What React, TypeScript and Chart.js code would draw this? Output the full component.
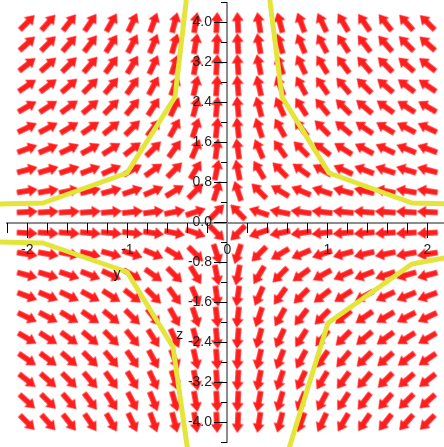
import React, { useEffect, useRef } from "react";
import { Chart, registerables } from "chart.js";

Chart.register(...registerables);

// Direction-field grid (20 x 20, Maple fieldplot style)
const gridX = [-2, -1.789, -1.579, -1.368, -1.158, -0.947, -0.737, -0.526, -0.316, -0.105,
  0.105, 0.316, 0.526, 0.737, 0.947, 1.158, 1.368, 1.579, 1.789, 2];
const gridY = [-4, -3.579, -3.158, -2.737, -2.316, -1.895, -1.474, -1.053, -0.632, -0.211,
  0.211, 0.632, 1.053, 1.474, 1.895, 2.316, 2.737, 3.158, 3.579, 4];

// Field: dx/dt = -x, dy/dt = y
const fieldX = (x: number, _y: number) => -x;
const fieldY = (_x: number, y: number) => y;

// Solution curves (vertices)
const curveTopLeftX = [-2.3, -1.843, -1.003, -0.523, -0.41];
const curveTopLeftY = [0.37, 0.39, 0.99, 2.51, 4.45];
const curveTopRightX = [0.425, 0.547, 1.017, 1.847, 2.3];
const curveTopRightY = [4.45, 2.51, 0.99, 0.39, 0.37];
const curveBottomLeftX = [-2.3, -1.843, -1.003, -0.543, -0.4];
const curveBottomLeftY = [-0.39, -0.41, -0.99, -2.49, -4.5];
const curveBottomRightX = [0.62, 1.007, 1.847, 2.3];
const curveBottomRightY = [-4.5, -2.01, -0.83, -0.66];

// Axis ranges and ticks
const X_MIN = -2.2;
const X_MAX = 2.167;
const Y_MIN = -4.4;
const Y_MAX = 4.4;
const X_STEP = 0.2;
const Y_STEP = 0.4;

// Stray text labels in the plot
const textLabels = ["y", "z"];
const textLabelX = [-1.103, -0.476];
const textLabelY = [-1.11, -2.32];

const RED = "#ff1e1e";
const YELLOW = "#e4e43a";
const AXIS_GRAY = "#8c8c8c";
const TEXT = "#1e1e1e";
const FONT_FAMILY = "'Liberation Sans', Arial, sans-serif";

function makeArrowSprite(): HTMLCanvasElement {
  const c = document.createElement("canvas");
  c.width = 24;
  c.height = 14;
  const g = c.getContext("2d")!;
  g.fillStyle = RED;
  g.beginPath();
  g.moveTo(1.5, 4.2);
  g.lineTo(13.5, 4.2);
  g.lineTo(13.5, 1);
  g.lineTo(22.5, 7);
  g.lineTo(13.5, 13);
  g.lineTo(13.5, 9.8);
  g.lineTo(1.5, 9.8);
  g.closePath();
  g.fill();
  return c;
}

const isMajorX = (v: number) => Math.abs(v - Math.round(v)) < 1e-6;
const isMajorY = (v: number) => Math.round(v / Y_STEP) % 2 === 0;

const noPadding = (s: any) => {
  s.paddingLeft = 0;
  s.paddingRight = 0;
  s.paddingTop = 0;
  s.paddingBottom = 0;
};

export default function App() {
  const ref = useRef<HTMLCanvasElement | null>(null);

  useEffect(() => {
    if (!ref.current) return;
    const sprite = makeArrowSprite();

    const arrowPoints: { x: number; y: number }[] = [];
    for (const y of gridY) for (const x of gridX) arrowPoints.push({ x, y });

    const curve = (xs: number[], ys: number[]) => ({
      type: "scatter" as const,
      data: xs.map((x, i) => ({ x, y: ys[i] })),
      showLine: true,
      borderColor: YELLOW,
      backgroundColor: YELLOW,
      borderWidth: 5,
      pointRadius: 0,
      borderJoinStyle: "round" as const,
      borderCapStyle: "butt" as const,
      clip: false as const,
      order: 1,
    });

    const textPlugin = {
      id: "strayText",
      afterDraw(chart: any) {
        const g = chart.ctx as CanvasRenderingContext2D;
        const xs = chart.scales.x;
        const ys = chart.scales.y;
        g.save();
        g.font = `14px ${FONT_FAMILY}`;
        g.fillStyle = TEXT;
        g.textAlign = "center";
        g.textBaseline = "alphabetic";
        textLabels.forEach((t, i) => {
          g.fillText(t, xs.getPixelForValue(textLabelX[i]), ys.getPixelForValue(textLabelY[i]));
        });
        g.restore();
      },
    };

    const tickFont = { family: FONT_FAMILY, size: 14 };

    const chart = new Chart(ref.current, {
      type: "scatter",
      data: {
        datasets: [
          {
            type: "scatter",
            data: arrowPoints,
            pointStyle: sprite,
            pointRadius: 10,
            rotation: (c: any) => {
              const p = c.raw as { x: number; y: number };
              if (!p) return 0;
              const xs = c.chart.scales.x;
              const ys = c.chart.scales.y;
              const e = 1e-3;
              const dx = xs.getPixelForValue(p.x + fieldX(p.x, p.y) * e) - xs.getPixelForValue(p.x);
              const dy = ys.getPixelForValue(p.y + fieldY(p.x, p.y) * e) - ys.getPixelForValue(p.y);
              return (Math.atan2(dy, dx) * 180) / Math.PI;
            },
            order: 2,
          } as any,
          curve(curveTopLeftX, curveTopLeftY),
          curve(curveTopRightX, curveTopRightY),
          curve(curveBottomLeftX, curveBottomLeftY),
          curve(curveBottomRightX, curveBottomRightY),
        ],
      },
      options: {
        animation: false,
        responsive: false,
        events: [],
        layout: { autoPadding: false, padding: { left: 7.3, top: 2.5, right: 0, bottom: 4.5 } },
        plugins: { legend: { display: false }, tooltip: { enabled: false } },
        scales: {
          x: {
            type: "linear",
            axis: "x",
            min: X_MIN,
            max: X_MAX,
            position: { y: 0 },
            afterFit: noPadding,
            ticks: {
              z: 2,
              stepSize: X_STEP,
              includeBounds: false,
              autoSkip: false,
              maxRotation: 0,
              padding: 5,
              font: tickFont,
              color: TEXT,
              callback: (v: any) => (isMajorX(Number(v)) ? String(Math.round(Number(v))) : ""),
            },
            grid: {
              z: 1,
              drawOnChartArea: false,
              drawTicks: true,
              tickLength: 14,
              tickWidth: 1,
              tickColor: (c: any) => (c.tick && isMajorX(c.tick.value) ? "#000" : "rgba(0,0,0,0)"),
            },
            border: { z: 1, display: true, color: AXIS_GRAY, width: 2 },
          },
          xMinor: {
            type: "linear",
            axis: "x",
            min: X_MIN,
            max: X_MAX,
            position: { y: 0 },
            afterFit: noPadding,
            ticks: { z: 2, stepSize: X_STEP, includeBounds: false, autoSkip: false, display: false },
            grid: { z: 1, drawOnChartArea: false, drawTicks: true, tickLength: 10, tickWidth: 1, tickColor: "#000" },
            border: { display: false },
          },
          y: {
            type: "linear",
            axis: "y",
            min: Y_MIN,
            max: Y_MAX,
            position: { x: 0 },
            afterFit: noPadding,
            ticks: { z: 2, stepSize: Y_STEP, autoSkip: false, display: false },
            grid: {
              z: 1,
              drawOnChartArea: false,
              drawTicks: true,
              tickLength: 12,
              tickWidth: 1,
              tickColor: (c: any) => (c.tick && isMajorY(c.tick.value) ? "#000" : "rgba(0,0,0,0)"),
            },
            border: { z: 1, display: true, color: AXIS_GRAY, width: 2 },
          },
          yMinor: {
            type: "linear",
            axis: "y",
            min: Y_MIN,
            max: Y_MAX,
            position: { x: 0 },
            afterFit: noPadding,
            ticks: { z: 2, stepSize: Y_STEP, autoSkip: false, display: false },
            grid: { z: 1, drawOnChartArea: false, drawTicks: true, tickLength: 6, tickWidth: 1, tickColor: "#000" },
            border: { display: false },
          },
          yLabels: {
            type: "linear",
            axis: "y",
            min: Y_MIN,
            max: Y_MAX,
            position: { x: -0.153 },
            afterFit: noPadding,
            ticks: {
              z: 2,
              stepSize: Y_STEP,
              autoSkip: false,
              font: tickFont,
              color: TEXT,
              callback: (v: any) => {
                const n = Number(v);
                if (!isMajorY(n)) return "";
                const r = Math.abs(n) < 1e-9 ? 0 : n;
                return r.toFixed(1);
              },
            },
            grid: { display: false, drawTicks: false },
            border: { display: false },
          },
        },
      } as any,
      plugins: [textPlugin],
    });

    return () => chart.destroy();
  }, []);

  return (
    <div style={{ position: "fixed", left: 0, top: 0, width: 444, height: 447, background: "#fff" }}>
      <canvas ref={ref} width={444} height={447} style={{ display: "block" }} />
    </div>
  );
}
